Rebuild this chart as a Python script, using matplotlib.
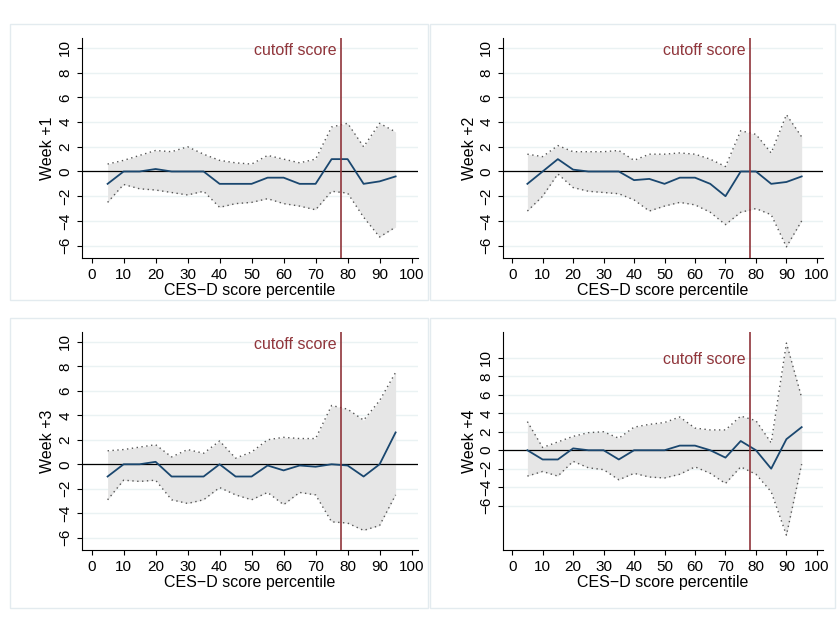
import matplotlib
matplotlib.use("Agg")
import matplotlib.pyplot as plt
from matplotlib.patches import Rectangle
plt.rcParams['font.family'] = ['Liberation Sans', 'DejaVu Sans']

x = [5,10,15,20,25,30,35,40,45,50,55,60,65,70,75,80,85,90,95]
labels = ["Week +1","Week +2","Week +3","Week +4"]
mean1 = [-1,0,0,0.2,0,0,0,-1,-1,-1,-0.5,-0.5,-1,-1,1,1,-1,-0.8,-0.4]
up1 = [0.6,0.9,1.3,1.7,1.6,2.0,1.4,0.9,0.7,0.6,1.3,1.0,0.7,1.0,3.6,3.9,2.0,3.9,3.2]
lo1 = [-2.5,-1.05,-1.4,-1.5,-1.7,-1.9,-1.6,-2.9,-2.6,-2.5,-2.2,-2.6,-2.8,-3.1,-1.6,-1.75,-3.7,-5.3,-4.5]
mean2 = [-1,0,1,0.15,0,0,0,-0.7,-0.6,-1,-0.5,-0.5,-1,-2,0,0,-1,-0.85,-0.4]
up2 = [1.4,1.2,2.1,1.6,1.6,1.6,1.7,0.9,1.4,1.4,1.5,1.4,1.0,0.4,3.3,3.0,1.5,4.6,2.8]
lo2 = [-3.2,-2,-0.2,-1.3,-1.6,-1.7,-1.8,-2.3,-3.2,-2.8,-2.5,-2.7,-3.3,-4.3,-3.3,-3.0,-3.5,-6.1,-4]
mean3 = [-1,0,0,0.2,-1,-1,-1,0,-1,-1,-0.1,-0.5,-0.1,-0.2,0,-0.1,-1,0,2.6]
up3 = [1.1,1.2,1.4,1.6,0.6,1.2,0.9,1.9,0.5,1.0,2.0,2.2,2.1,2.1,4.8,4.5,3.6,5.2,7.5]
lo3 = [-2.9,-1.3,-1.4,-1.3,-2.9,-3.2,-2.9,-1.9,-2.5,-2.9,-2.3,-3.3,-2.3,-2.5,-4.7,-4.8,-5.4,-5.0,-2.5]
mean4 = [0,-1,-1,0.2,0,0,-1,0,0,0,0.5,0.5,0,-0.8,1,0,-2,1.2,2.5]
up4 = [3.1,0.3,0.9,1.5,1.9,2.0,1.3,2.5,2.8,3.0,3.6,2.4,2.2,2.2,3.7,3.2,0.8,11.6,5.7]
lo4 = [-2.8,-2.3,-2.8,-1.2,-1.9,-2.1,-3.2,-2.5,-2.9,-3.0,-2.6,-1.8,-2.5,-3.6,-1.8,-2.6,-4.5,-9.2,-1.5]
cutoff = 78
xticks = list(range(0,101,10))
yticks = list(range(-6,11,2))

W, H = 839, 618
fig = plt.figure(figsize=(W/100, H/100), dpi=100)
for (l,t,r,b) in [(10,24,428,300),(430,24,835,300),(10,318,428,608),(430,318,835,608)]:
    fig.patches.append(Rectangle((l/W,1-b/H),(r-l)/W,(b-t)/H,transform=fig.transFigure,
                                 fill=False,edgecolor="#e3ebef",lw=1))
boxes = [(82,38,418,258,(-7,10.8)),(503,38,823,258,(-7,10.8)),
         (82,332,418,550,(-7,10.8)),(503,332,823,550,(-10.8,12.8))]
data = [(mean1,up1,lo1),(mean2,up2,lo2),(mean3,up3,lo3),(mean4,up4,lo4)]
for (l,t,r,b,yl),(m,u,lo),lab in zip(boxes,data,labels):
    ax = fig.add_axes([l/W,1-b/H,(r-l)/W,(b-t)/H])
    ax.set_xlim(-3,102); ax.set_ylim(*yl)
    for yv in yticks:
        ax.axhline(yv,color="#eaf2f3",lw=1,zorder=0)
    ax.fill_between(x,lo,u,color="#e6e6e6",lw=0,zorder=1)
    ax.plot(x,u,color="#555555",ls=(0,(1,2.5)),lw=1,zorder=2)
    ax.plot(x,lo,color="#555555",ls=(0,(1,2.5)),lw=1,zorder=2)
    ax.axhline(0,color="black",lw=0.9,zorder=1.5)
    ax.plot(x,m,color="#1a476f",lw=1.3,zorder=3)
    ax.axvline(cutoff,color="#90353b",lw=1.2,zorder=4)
    ax.text(cutoff-1.5,9.8,"cutoff score",color="#90353b",ha="right",va="center",fontsize=11.5)
    ax.set_xticks(xticks); ax.set_yticks(yticks)
    ax.set_yticklabels([str(v).replace("-","\u2212") for v in yticks],rotation=90,va="center")
    ax.tick_params(labelsize=11)
    for s in ["top","right"]:
        ax.spines[s].set_visible(False)
    ax.set_xlabel("CES\u2212D score percentile",fontsize=11.5,labelpad=1)
    ax.set_ylabel(lab,fontsize=11.5,labelpad=2)
fig.savefig("out.png",dpi=100,facecolor="white")
